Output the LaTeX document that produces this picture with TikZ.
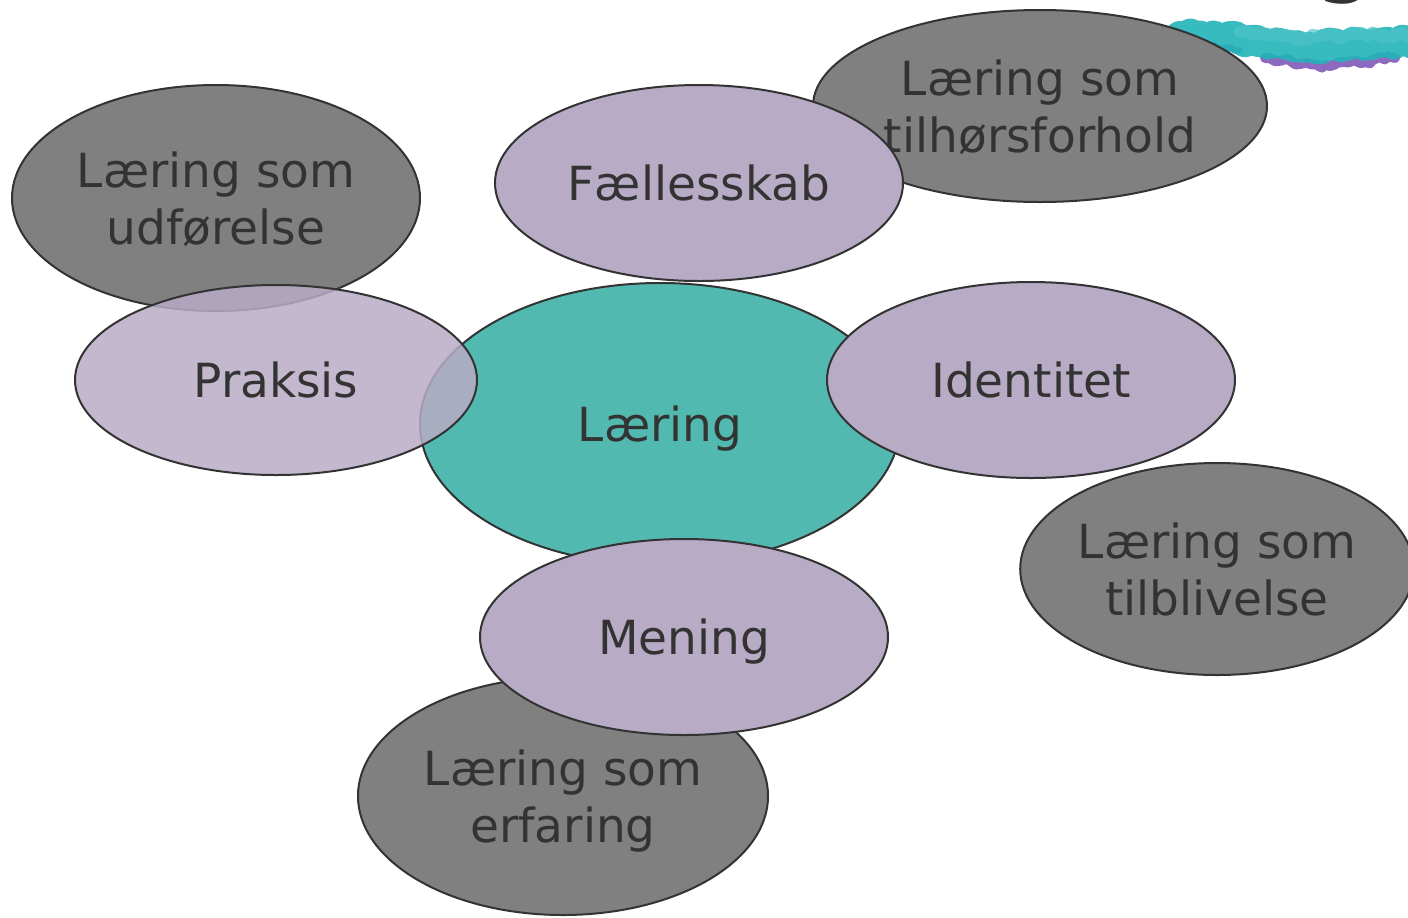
\documentclass[tikz,border=0pt]{standalone}
\usepackage{fontspec}
\setmainfont{DejaVu Sans}
\usetikzlibrary{shapes.geometric, positioning, decorations.pathmorphing}
\definecolor{outerGray}{HTML}{808080}
\definecolor{innerPurple}{HTML}{B8ABC6}
\definecolor{coreTeal}{HTML}{52B9B1}
\definecolor{lineGray}{HTML}{333333}
\definecolor{brushTeal}{HTML}{22B4B8}
\definecolor{brushPurple}{HTML}{7A4FB5}
\pgfdeclarelayer{back}
\pgfsetlayers{back,main}
\tikzstyle{bubble} = [ellipse, draw=lineGray, line width=1pt, inner sep=0pt, text=lineGray, text depth=0pt, font=\fontsize{23.5}{28.5}\selectfont, align=center]
\tikzstyle{outerNode} = [bubble, fill=outerGray]
\tikzstyle{innerNode} = [bubble, fill=innerPurple, minimum width=204pt, minimum height=98pt]
\tikzstyle{coreNode} = [bubble, fill=coreTeal, minimum width=240pt, minimum height=141pt]
\tikzstyle{brush} = [line cap=round, line join=round, decorate, decoration={random steps, segment length=2.5pt, amplitude=1.5pt}]

\begin{document}
\begin{tikzpicture}[x=0.5pt, y=-0.5pt]
                    \useasboundingbox (0,0) rectangle (1408,917);
                    \clip (0,0) rectangle (1408,917);
                    \node (laering) [coreNode] at (660,424) {Læring};
                    \node (faelles) [innerNode, above of = laering, node distance = 120.5pt, xshift = 19.5pt] {Fællesskab};
                    \node (praksis) [innerNode, fill opacity = 0.85, text opacity = 1, left of = laering, node distance = 192pt, yshift = 22pt, minimum width = 201pt, minimum height = 95pt] {Praksis};
                    \node (identitet) [innerNode, right of = laering, node distance = 185.5pt, yshift = 22pt] {Identitet};
                    \node (mening) [innerNode, below of = laering, node distance = 106.5pt, xshift = 12pt] {Mening};
                    \begin{pgfonlayer}{back}
                        \begin{scope}
                            \clip (0,0) rectangle (1408,917);
                            \pgfmathsetseed{7}
                            % cut-off title letter and brush stroke
                            \node (titleG) [text = lineGray, font = \fontsize{50}{60}\selectfont, anchor = base] at (1345,-17) {g};
                            \draw [brush, brushPurple, line width = 5pt, opacity = 0.85] (1265,58) -- (1300,64) -- (1330,66) -- (1395,58);
                            \draw [brush, brushPurple, line width = 3pt, opacity = 0.8] (1195,46) -- (1240,50);
                            \draw [brush, brushTeal, line width = 15pt, opacity = 0.9] (1180,36) -- (1250,40) -- (1310,47) -- (1360,43) -- (1430,42);
                            \draw [brush, brushTeal!80!white, line width = 6pt, opacity = 0.7] (1240,32) -- (1300,38) -- (1345,36) -- (1420,34);
                            \node (udfoerelse) [outerNode, above of = praksis, node distance = 91pt, xshift = -30pt, minimum width = 204pt, minimum height = 113pt] {Læring som\\udførelse};
                            \node (tilhoer) [outerNode, right of = faelles, node distance = 170.5pt, yshift = 38.5pt, minimum width = 227pt, minimum height = 96pt] {Læring som\\tilhørsforhold};
                            \node (tilblivelse) [outerNode, below of = identitet, node distance = 94.5pt, xshift = 93pt, minimum width = 194pt, minimum height = 106pt] {Læring som\\tilblivelse};
                            \node (erfaring) [outerNode, below of = mening, node distance = 79.5pt, xshift = -60.5pt, minimum width = 205pt, minimum height = 119pt] {Læring som\\erfaring};
                        \end{scope}
                    \end{pgfonlayer}
                \end{tikzpicture}
\end{document}
